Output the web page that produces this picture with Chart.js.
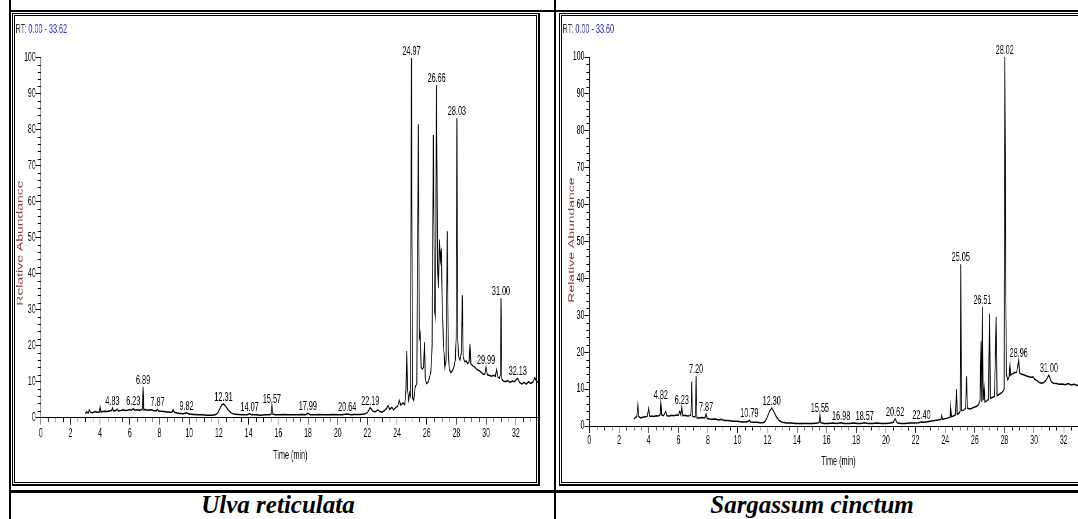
<!DOCTYPE html>
<html>
<head>
<meta charset="utf-8">
<script src="https://cdn.jsdelivr.net/npm/chart.js@4.4.0/dist/chart.umd.min.js"></script>
<style>
  html, body { margin: 0; padding: 0; background: #fff; }
  body { width: 1078px; height: 519px; position: relative; overflow: hidden; }
  .rule { position: absolute; background: #000; }
  .frame { position: absolute; box-sizing: border-box; border-style: solid; border-color: #000; z-index: 2; pointer-events: none; }
  .chartbox { position: absolute; top: 16px; height: 466px; z-index: 1; }
  .chartbox canvas { position: absolute; left: 0; top: 0; transform: scaleX(0.58); transform-origin: 0 0; }
  .caption { position: absolute; top: 491px; height: 26px; line-height: 26px; text-align: center;
             font: italic bold 25px "Liberation Serif", "Times New Roman", serif; }
</style>
</head>
<body>
<!-- table rules -->
<div class="rule" style="left:9px;top:0;width:2px;height:519px"></div>
<div class="rule" style="left:554px;top:0;width:2px;height:519px"></div>
<div class="rule" style="left:9px;top:10px;width:1069px;height:2px"></div>
<div class="rule" style="left:9px;top:490px;width:1069px;height:3px"></div>

<!-- picture frames -->
<div class="frame" style="left:12px;top:13px;width:528px;height:473px;border-width:1px 2px 2px 1px"></div>
<div class="frame" style="left:14px;top:15px;width:523px;height:468px;border-width:1px"></div>
<div class="frame" style="left:559px;top:13px;width:540px;height:473px;border-width:1px 2px 2px 1px"></div>
<div class="frame" style="left:561px;top:15px;width:535px;height:468px;border-width:1px"></div>

<div class="chartbox" style="left:15px;width:525px"><canvas id="ulva" width="905" height="466"></canvas></div>
<div class="chartbox" style="left:562px;width:526px"><canvas id="sarg" width="906" height="466"></canvas></div>

<div class="caption" style="left:11px;width:534px">Ulva reticulata</div>
<div class="caption" style="left:556px;width:512px">Sargassum cinctum</div>

<script>
// horizontal squeeze of the printed chromatograms
const SQUEEZE = 0.58;

// ---- Ulva reticulata ----
const ulvaRange = [0, 33.62];
const ulvaTime = [
  3.00, 3.10, 3.20, 3.27, 3.35, 3.50, 3.65, 3.80, 3.95, 4.00,
  4.05, 4.20, 4.35, 4.50, 4.65, 4.78, 4.83, 4.90, 5.05, 5.15,
  5.22, 5.40, 5.55, 5.70, 5.85, 6.00, 6.12, 6.23, 6.32, 6.50,
  6.65, 6.80, 6.85, 6.89, 6.94, 7.05, 7.20, 7.40, 7.60, 7.78,
  7.87, 7.95, 8.10, 8.30, 8.50, 8.70, 8.85, 8.92, 9.00, 9.20,
  9.40, 9.60, 9.82, 10.00, 10.30, 10.60, 10.90, 11.20, 11.50, 11.75,
  11.90, 12.05, 12.20, 12.31, 12.45, 12.60, 12.80, 13.00, 13.30, 13.60,
  13.90, 14.07, 14.20, 14.50, 14.80, 15.10, 15.40, 15.52, 15.57, 15.63,
  15.80, 16.10, 16.40, 16.70, 17.00, 17.30, 17.60, 17.85, 17.99, 18.15,
  18.50, 18.80, 19.10, 19.40, 19.70, 20.00, 20.30, 20.64, 20.90, 21.20,
  21.50, 21.80, 22.00, 22.19, 22.35, 22.50, 22.70, 22.85, 23.00, 23.15,
  23.30, 23.40, 23.50, 23.65, 23.75, 23.90, 24.05, 24.15, 24.25, 24.40,
  24.52, 24.60, 24.65, 24.70, 24.78, 24.84, 24.90, 24.97, 25.04, 25.12,
  25.22, 25.33, 25.43, 25.50, 25.56, 25.62, 25.70, 25.78, 25.85, 25.90,
  25.98, 26.08, 26.18, 26.28, 26.36, 26.44, 26.52, 26.58, 26.66, 26.73,
  26.78, 26.86, 26.92, 26.98, 27.05, 27.13, 27.22, 27.30, 27.38, 27.45,
  27.52, 27.62, 27.72, 27.82, 27.92, 27.98, 28.03, 28.08, 28.15, 28.24,
  28.33, 28.39, 28.45, 28.55, 28.65, 28.75, 28.85, 28.91, 28.97, 29.10,
  29.25, 29.40, 29.55, 29.70, 29.82, 29.92, 29.99, 30.08, 30.20, 30.35,
  30.50, 30.62, 30.70, 30.80, 30.90, 30.96, 31.00, 31.05, 31.15, 31.30,
  31.45, 31.60, 31.75, 31.90, 32.03, 32.13, 32.25, 32.40, 32.55, 32.70,
  32.85, 33.00, 33.15, 33.28, 33.40, 33.52, 33.62
];
const ulvaAbund = [
  1.2, 1.6, 1.3, 2.2, 1.5, 1.4, 1.7, 1.5, 1.6, 3.0,
  1.6, 1.7, 1.8, 1.7, 1.9, 2.0, 2.8, 1.9, 2.0, 2.4,
  1.9, 2.0, 2.2, 2.0, 2.1, 2.3, 2.0, 2.6, 2.1, 2.2,
  2.1, 2.2, 2.4, 8.6, 2.2, 2.3, 2.1, 2.2, 2.0, 1.9,
  2.3, 1.8, 1.8, 1.7, 1.6, 1.5, 1.6, 2.2, 1.5, 1.3,
  1.2, 1.1, 1.4, 1.0, 0.9, 0.8, 0.8, 0.7, 0.7, 0.8,
  1.2, 2.4, 3.6, 3.8, 3.2, 2.3, 1.4, 1.0, 0.9, 0.8,
  0.8, 1.1, 0.8, 0.8, 0.7, 0.8, 0.8, 1.0, 3.3, 1.0,
  0.8, 0.8, 0.9, 0.8, 0.8, 0.8, 0.9, 0.8, 1.2, 0.8,
  0.8, 0.9, 0.8, 0.8, 0.9, 0.8, 0.8, 1.0, 0.8, 0.9,
  0.9, 1.0, 1.4, 2.8, 1.9, 1.6, 2.2, 1.7, 1.5, 2.0,
  2.6, 3.4, 2.3, 2.9, 2.2, 2.8, 3.2, 4.8, 3.5, 4.1,
  3.6, 8.0, 18.5, 8.0, 5.0, 7.0, 6.0, 100, 5.5, 4.8,
  8.5, 9.5, 81.5, 22.0, 23.5, 14.0, 13.5, 14.0, 21.0, 11.0,
  9.5, 9.8, 11.0, 13.0, 20.0, 78.5, 30.0, 28.0, 92.4, 42.0,
  36.0, 49.5, 44.0, 47.0, 30.0, 20.0, 14.0, 16.0, 51.8, 18.0,
  13.5, 12.5, 13.0, 14.0, 16.0, 22.0, 83.2, 22.0, 17.0, 16.0,
  18.0, 34.0, 17.0, 15.5, 15.8, 15.0, 15.5, 20.5, 15.0, 14.4,
  14.0, 13.3, 13.0, 12.5, 12.0, 12.2, 14.0, 11.9, 11.8, 11.5,
  11.8, 11.5, 13.4, 11.2, 11.0, 12.0, 33.2, 10.8, 10.2, 10.0,
  10.3, 9.8, 10.2, 10.0, 10.6, 10.9, 9.8, 9.4, 9.8, 9.3,
  10.0, 9.5, 9.9, 11.2, 9.8, 10.1, 10.0
];
const ulvaPeakLabels = ['4.83', '6.23', '6.89', '7.87', '9.82', '12.31', '14.07', '15.57', '17.99',
  '20.64', '22.19', '24.97', '26.66', '28.03', '29.99', '31.00', '32.13'];
const ulvaPeakTops = [2.8, 2.6, 8.6, 2.3, 1.4, 3.8, 1.1, 3.3, 1.2, 1.0, 2.8, 100, 92.4, 83.2, 14.0, 33.2, 10.9];

// ---- Sargassum cinctum ----
const sargRange = [0, 33.60];
const sargTime = [
  3.00, 3.10, 3.20, 3.27, 3.33, 3.45, 3.60, 3.75, 3.90, 4.00,
  4.07, 4.20, 4.35, 4.50, 4.65, 4.77, 4.82, 4.88, 5.00, 5.15,
  5.22, 5.40, 5.55, 5.70, 5.85, 6.00, 6.10, 6.17, 6.23, 6.30,
  6.45, 6.60, 6.75, 6.85, 6.90, 6.95, 7.05, 7.15, 7.20, 7.25,
  7.40, 7.60, 7.80, 7.87, 7.95, 8.10, 8.30, 8.50, 8.70, 8.90,
  9.10, 9.30, 9.50, 9.70, 9.90, 10.10, 10.30, 10.50, 10.70, 10.79,
  10.88, 11.10, 11.30, 11.50, 11.70, 11.85, 12.00, 12.15, 12.30, 12.45,
  12.60, 12.80, 13.00, 13.30, 13.60, 13.90, 14.20, 14.50, 14.80, 15.10,
  15.40, 15.50, 15.55, 15.60, 15.80, 16.10, 16.40, 16.70, 16.98, 17.20,
  17.50, 17.80, 18.10, 18.30, 18.57, 18.80, 19.10, 19.40, 19.70, 20.00,
  20.30, 20.50, 20.62, 20.75, 21.00, 21.30, 21.60, 21.90, 22.20, 22.40,
  22.60, 22.90, 23.20, 23.50, 23.72, 23.76, 23.82, 24.00, 24.20, 24.33,
  24.37, 24.42, 24.55, 24.70, 24.76, 24.82, 24.95, 25.01, 25.05, 25.10,
  25.25, 25.38, 25.44, 25.50, 25.70, 25.90, 26.10, 26.25, 26.35, 26.42,
  26.47, 26.51, 26.56, 26.63, 26.68, 26.80, 26.92, 26.99, 27.05, 27.20,
  27.33, 27.44, 27.50, 27.65, 27.80, 27.92, 27.98, 28.02, 28.06, 28.09,
  28.13, 28.22, 28.32, 28.37, 28.42, 28.55, 28.70, 28.82, 28.96, 29.02,
  29.15, 29.30, 29.45, 29.60, 29.75, 29.93, 30.05, 30.20, 30.35, 30.50,
  30.65, 30.80, 31.00, 31.15, 31.30, 31.50, 31.70, 31.90, 32.10, 32.30,
  32.50, 32.70, 32.90, 33.10, 33.30, 33.60
];
const sargAbund = [
  1.8, 2.3, 2.5, 5.7, 2.6, 2.2, 2.4, 2.5, 2.6, 4.8,
  2.6, 2.7, 2.6, 2.8, 2.7, 3.0, 6.6, 3.0, 2.8, 3.9,
  2.8, 2.7, 2.9, 2.8, 3.0, 2.9, 4.0, 3.0, 5.2, 2.8,
  2.9, 2.7, 2.8, 3.0, 12.0, 2.6, 2.5, 2.5, 13.5, 2.2,
  2.2, 2.3, 2.2, 3.3, 2.0, 1.9, 1.8, 1.9, 1.6, 1.8,
  1.5, 1.5, 1.4, 1.3, 1.3, 1.2, 1.1, 1.1, 1.2, 1.6,
  1.1, 1.0, 1.0, 0.9, 0.9, 1.2, 2.4, 4.0, 4.9, 3.8,
  2.6, 1.5, 1.0, 0.8, 0.8, 0.7, 0.7, 0.7, 0.7, 0.7,
  0.8, 1.0, 3.0, 0.9, 0.7, 0.7, 0.8, 0.7, 0.9, 0.7,
  0.7, 0.8, 0.7, 0.7, 0.9, 0.7, 0.7, 0.8, 0.7, 0.7,
  0.8, 1.0, 2.0, 0.9, 0.7, 0.7, 0.8, 0.8, 0.9, 1.1,
  1.0, 1.2, 1.4, 1.6, 1.8, 2.8, 1.8, 2.0, 2.2, 2.4,
  5.5, 2.5, 2.7, 3.0, 10.0, 3.2, 3.5, 4.0, 43.8, 4.2,
  4.3, 4.8, 13.5, 4.8, 4.6, 5.0, 5.3, 5.8, 7.0, 23.0,
  6.5, 32.3, 7.0, 10.5, 6.5, 6.8, 7.2, 30.5, 7.5, 7.8,
  8.0, 29.6, 8.2, 8.6, 9.0, 9.5, 10.0, 100, 68.0, 36.0,
  14.0, 12.5, 13.5, 16.7, 13.8, 14.2, 14.5, 14.6, 17.9, 14.4,
  14.0, 13.9, 13.6, 13.4, 13.2, 13.3, 12.6, 12.3, 11.8, 11.6,
  11.8, 12.4, 13.8, 12.0, 11.6, 11.5, 11.3, 11.4, 11.2, 11.5,
  11.1, 11.3, 11.0, 11.3, 11.0, 11.2
];
const sargPeakLabels = ['4.82', '6.23', '7.20', '7.87', '10.79', '12.30', '15.55', '16.98', '18.57',
  '20.62', '22.40', '25.05', '26.51', '28.02', '28.96', '31.00'];
const sargPeakTops = [6.6, 5.2, 13.5, 3.3, 1.6, 4.9, 3.0, 0.9, 0.9, 2.0, 1.1, 43.8, 32.3, 100, 17.9, 13.8];

// axes
const xTickLabels = [0, 2, 4, 6, 8, 10, 12, 14, 16, 18, 20, 22, 24, 26, 28, 30, 32];
const yTickLabels = [0, 10, 20, 30, 40, 50, 60, 70, 80, 90, 100];
const xMinorStep = 0.5;
const yMinorStep = 2;

const FONT = '"Liberation Sans", Arial, Helvetica, sans-serif';
Chart.defaults.font.family = FONT;
Chart.defaults.color = '#000';

function makeChart(id, cfg) {
  const canvas = document.getElementById(id);
  const H = canvas.height;

  const extras = {
    id: 'extras_' + id,
    afterDraw(chart) {
      const ctx = chart.ctx;
      const xs = chart.scales.x, ys = chart.scales.y, a = chart.chartArea;
      ctx.save();

      // minor ticks
      ctx.strokeStyle = '#000';
      ctx.lineWidth = 1;
      ctx.beginPath();
      for (let v = xMinorStep; v <= xs.max; v += xMinorStep) {
        if (xTickLabels.includes(v)) continue;
        const px = Math.round(xs.getPixelForValue(v)) + 0.5;
        ctx.moveTo(px, a.bottom);
        ctx.lineTo(px, a.bottom + 4.5);
      }
      for (let v = yMinorStep; v < 100; v += yMinorStep) {
        if (yTickLabels.includes(v)) continue;
        const py = Math.round(ys.getPixelForValue(v)) + 0.5;
        ctx.moveTo(a.left, py);
        ctx.lineTo(a.left - 5.2, py);
      }
      ctx.stroke();

      // peak retention time labels
      ctx.font = '12.5px ' + FONT;
      ctx.fillStyle = '#000';
      ctx.textAlign = 'center';
      ctx.textBaseline = 'alphabetic';
      cfg.labels.forEach((lab, i) => {
        ctx.fillText(lab, xs.getPixelForValue(parseFloat(lab)), ys.getPixelForValue(cfg.tops[i]) - 3);
      });

      // RT range header
      ctx.font = '12.5px ' + FONT;
      ctx.textAlign = 'left';
      ctx.textBaseline = 'middle';
      ctx.fillStyle = '#333';
      ctx.fillText('RT:', cfg.rtX, cfg.rtY);
      const w = ctx.measureText('RT: ').width;
      ctx.fillStyle = '#2a2ab8';
      ctx.fillText(cfg.range[0].toFixed(2) + ' - ' + cfg.range[1].toFixed(2), cfg.rtX + w, cfg.rtY);

      // axis titles
      ctx.font = '12.5px ' + FONT;
      ctx.fillStyle = '#000';
      ctx.textAlign = 'center';
      ctx.fillText('Time (min)', (a.left + a.right) / 2, a.bottom + cfg.xTitleOffset);

      ctx.translate(cfg.yTitleX, cfg.yTitleY);
      ctx.rotate(-Math.PI / 2);
      ctx.font = '14px ' + FONT;
      ctx.fillStyle = '#8b3a3a';
      ctx.fillText('Relative Abundance', 0, 0);
      ctx.restore();
    }
  };

  return new Chart(canvas, {
    type: 'line',
    data: {
      datasets: [{
        data: cfg.time.map((t, i) => ({ x: t, y: cfg.abund[i] })),
        borderColor: '#000',
        borderWidth: 1.5,
        pointRadius: 0,
        tension: 0,
        fill: false
      }]
    },
    options: {
      responsive: false,
      maintainAspectRatio: false,
      devicePixelRatio: 1,
      animation: false,
      events: [],
      layout: { padding: { left: 0, right: 0, top: cfg.top, bottom: 0 } },
      plugins: { legend: { display: false }, tooltip: { enabled: false } },
      scales: {
        x: {
          type: 'linear',
          min: cfg.range[0],
          max: cfg.range[1],
          afterBuildTicks: s => { s.ticks = xTickLabels.map(v => ({ value: v })); },
          afterFit: s => { s.height = H - cfg.bottom; },
          ticks: { autoSkip: false, maxRotation: 0, minRotation: 0, padding: cfg.xPad, font: { size: 12 }, color: '#000' },
          grid: { drawOnChartArea: false, drawTicks: true, tickLength: 7, color: '#000', lineWidth: 1 },
          border: { display: true, color: '#000', width: 1 }
        },
        y: {
          min: 0,
          max: 100,
          afterBuildTicks: s => { s.ticks = yTickLabels.map(v => ({ value: v })); },
          afterFit: s => { s.width = cfg.left; },
          ticks: { padding: 0, font: { size: 12 }, color: '#000' },
          grid: { drawOnChartArea: false, drawTicks: true, tickLength: 8.6, color: '#000', lineWidth: 1 },
          border: { display: true, color: '#000', width: 1 }
        }
      }
    },
    plugins: [extras]
  });
}

makeChart('ulva', {
  time: ulvaTime, abund: ulvaAbund, labels: ulvaPeakLabels, tops: ulvaPeakTops, range: ulvaRange,
  left: 44.3, top: 41.7, bottom: 401.7, xPad: 1.5, xTitleOffset: 38.3,
  rtX: 1, rtY: 14, yTitleX: 9.1, yTitleY: 227
});

makeChart('sarg', {
  time: sargTime, abund: sargAbund, labels: sargPeakLabels, tops: sargPeakTops, range: sargRange,
  left: 47.2, top: 41, bottom: 410, xPad: 0, xTitleOffset: 35.7,
  rtX: 1, rtY: 13.3, yTitleX: 17.2, yTitleY: 224
});
</script>
</body>
</html>
